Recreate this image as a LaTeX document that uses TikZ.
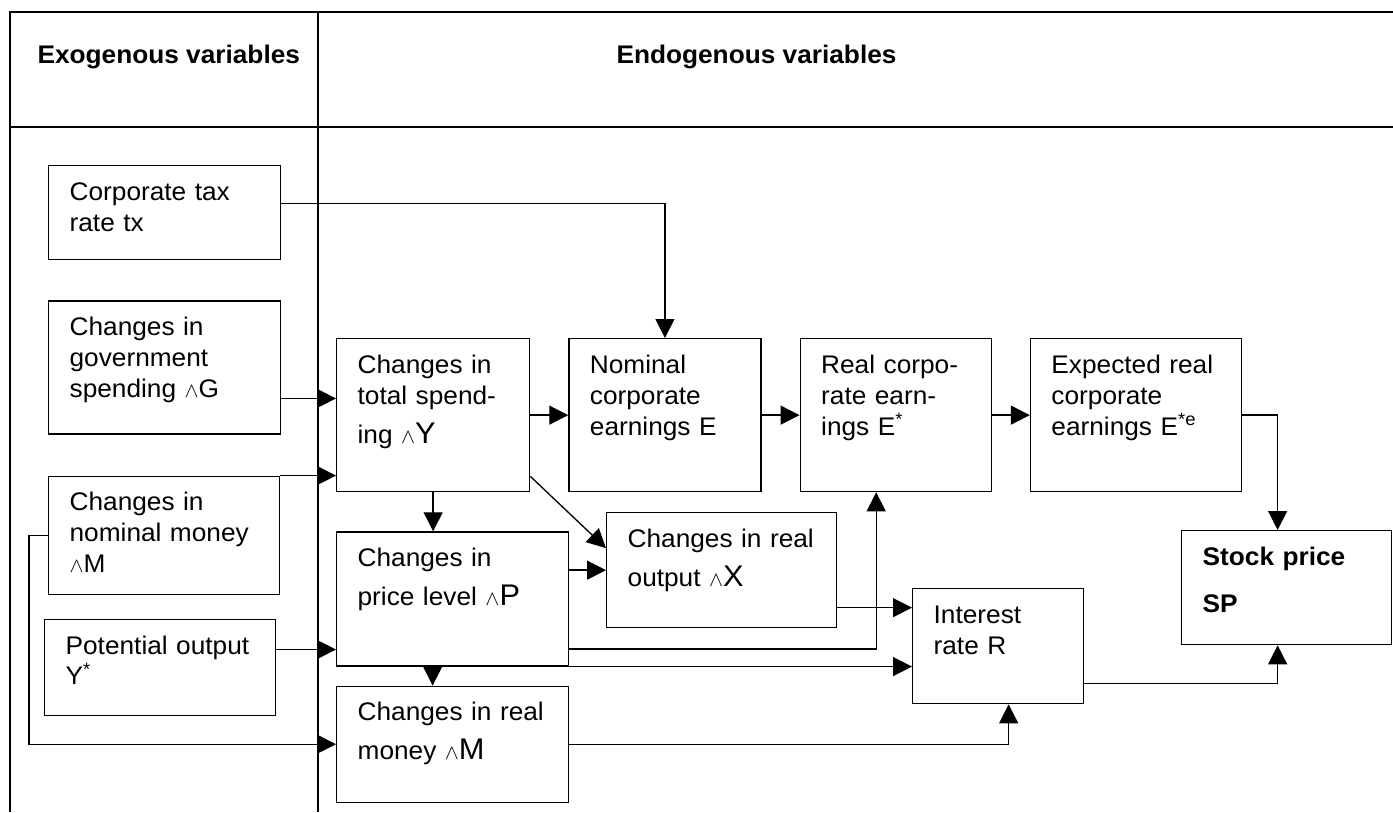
\documentclass[tikz,border=0pt]{standalone}
\usepackage{fontspec}
\setmainfont{Liberation Sans}[FakeStretch=1.03]
\usetikzlibrary{arrows.meta, positioning}

\newcommand{\chg}{{\fontsize{11.5}{12}\selectfont$\wedge$}}
\newcommand{\bigvar}[1]{{\fontsize{17}{17.6}\selectfont #1}}

\begin{document}
\begin{tikzpicture}[
  x=0.02cm, y=-0.02cm,
  font=\fontsize{14.5}{17.6}\selectfont,
  line width=0.75pt,
  box/.style 2 args={draw, anchor=north west, align=left,
                     inner xsep=4.2mm, inner ysep=3.2mm,
                     text height=3.7mm, text width=#1, text depth=#2},
  head/.style={anchor=west, font=\fontsize{14.5}{17.6}\selectfont\bfseries},
  ar/.style={-{Triangle[length=3.8mm, width=3.8mm]}},
]
\useasboundingbox (0,0) rectangle (1393,812);

%% table frame
\draw (10,812) -- (10,12) -- (1393,12);
\draw (10,127) -- (1393,127);
\draw (318,12) -- (318,812);
\node[head] (exo)  at (31,57)  {Exogenous variables};
\node[head] (endo) at (610,57) {Endogenous variables};

%% exogenous variables
\node[box={38mm}{8.7mm}] (tax) at (48,165) {Corporate tax\\rate tx};
\node[box={38mm}{16.5mm}, below=8mm of tax.south west, anchor=north west]
  (gov) {Changes in\\government\\spending \chg G};
\node[box={37.8mm}{13.5mm}, below=8.2mm of gov.south west, anchor=north west]
  (money) {Changes in\\nominal money\\\chg M};
\node[box={37.8mm}{9.1mm}, below=4.8mm of money.south west, anchor=north west, xshift=-0.8mm]
  (pot) {Potential output\\Y\textsuperscript{*}};

%% endogenous variables, top row
\node[box={30.2mm}{20.5mm}] (totY) at (336,338)
  {Changes in\\total spend-\\[1.6mm]ing \chg\bigvar{Y}};
\node[box={30mm}{20.5mm}, right=7.6mm of totY] (nomE)
  {Nominal\\corporate\\earnings E};
\node[box={29.8mm}{20.5mm}, right=7.6mm of nomE] (realE)
  {Real corpo-\\rate earn-\\ings E\textsuperscript{*}};
\node[box={33.8mm}{20.5mm}, right=7.6mm of realE] (expE)
  {Expected real\\corporate\\earnings E\textsuperscript{*e}};

%% endogenous variables, lower part
\node[box={38mm}{16.7mm}, below=7.8mm of totY.south west, anchor=north west]
  (price) {Changes in\\[1.6mm]price level \chg\bigvar{P}};
\node[box={38mm}{13.1mm}, below=3.8mm of price]
  (realM) {\mbox{Changes in real}\\[1.6mm]money \chg\bigvar{M}};
\node[box={37.6mm}{12.9mm}] (realX) at (606,512)
  {\mbox{Changes in real}\\[1.6mm]output \chg\bigvar{X}};
\node[box={25.8mm}{12.9mm}] (inter) at (912,588) {Interest\\rate R};
\node[box={33.6mm}{12.7mm}] (stock) at (1181,530)
  {\textbf{Stock price}\\[3.2mm]\textbf{SP}};

%% connectors
\draw[ar] ([yshift=1.8mm]tax.east) -| (nomE.north);
\draw[ar] ([yshift=-6.2mm]gov.east) -- ([yshift=-6.2mm]gov.east -| totY.west);
\draw[ar] (money.north east) -- (money.north east -| totY.west);
\draw[ar] (money.west) -- ++(-3.8mm,0) |- (realM.west);
\draw[ar] ([yshift=3.6mm]pot.east) -- ([yshift=3.6mm]pot.east -| price.west);
\draw[ar] (totY) -- (nomE);
\draw[ar] (nomE) -- (realE);
\draw[ar] (realE) -- (expE);
\draw[ar] (expE.east) -| ([xshift=-1.8mm]stock.north);
\draw[ar] (totY.south) -- (totY.south |- price.north);
\draw[ar] ([xshift=-4mm]price.south) -- ([xshift=-4mm]realM.north);
\draw[ar] ([yshift=3.2mm]totY.south east) -- ([yshift=4.4mm]realX.west);
\draw[ar] (realX.west -| price.east) -- (realX.west);
\draw[ar] ([yshift=-10mm]price.east) -| ([xshift=-3.9mm]realE.south);
\draw[ar] (price.south east) -- (price.south east -| inter.west);
\draw[ar] ([yshift=-7.5mm]realX.east) -- ([yshift=-7.5mm]realX.east -| inter.west);
\draw[ar] (realM.east) -| ([xshift=2.1mm]inter.south);
\draw[ar] ([yshift=-7.5mm]inter.east) -| ([xshift=-1.8mm]stock.south);
\end{tikzpicture}
\end{document}
